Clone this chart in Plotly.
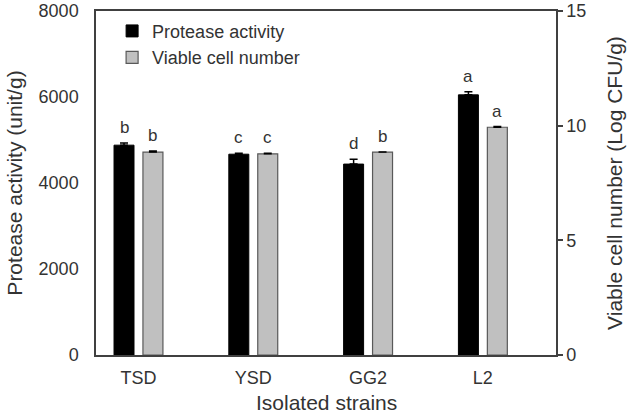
import plotly.graph_objects as go

strains = ["TSD", "YSD", "GG2", "L2"]
protease = [4880, 4670, 4440, 6050]
protease_err = [50, 20, 110, 70]
viable = [8.85, 8.77, 8.85, 9.93]
viable_err = [0.05, 0.03, 0.0, 0.03]
protease_letters = ["b", "c", "d", "a"]
viable_letters = ["b", "c", "b", "a"]

FONT = "Liberation Sans, Arial, sans-serif"
AXC = "#404040"
TXT = "#333333"
xpos = list(range(len(strains)))

fig = go.Figure()
fig.add_trace(go.Bar(
    x=xpos, y=protease, name="Protease activity",
    width=0.174, offset=-0.213,
    marker=dict(color="black", line=dict(color="black", width=1)),
    error_y=dict(type="data", array=protease_err, arrayminus=[0]*4, symmetric=False,
                 color="black", thickness=1.5, width=4),
    yaxis="y",
))
fig.add_trace(go.Bar(
    x=xpos, y=viable, name="Viable cell number",
    width=0.174, offset=0.039,
    marker=dict(color="#c0c0c0", line=dict(color="#595959", width=1.2)),
    error_y=dict(type="data", array=viable_err, arrayminus=[0]*4, symmetric=False,
                 color="black", thickness=1.5, width=4),
    yaxis="y2",
))

for i in range(len(strains)):
    fig.add_annotation(x=i - 0.126, y=protease[i] + protease_err[i], xref="x", yref="y",
                       text=protease_letters[i], showarrow=False, yanchor="bottom", yshift=4,
                       font=dict(family=FONT, size=17, color=TXT))
    fig.add_annotation(x=i + 0.126, y=viable[i] + viable_err[i], xref="x", yref="y2",
                       text=viable_letters[i], showarrow=False, yanchor="bottom", yshift=4,
                       font=dict(family=FONT, size=17, color=TXT))

# x-axis title
fig.add_annotation(x=0.5, y=-0.139, xref="paper", yref="paper", text="Isolated strains",
                   showarrow=False, xanchor="center", yanchor="middle",
                   font=dict(family=FONT, size=21, color=TXT))

fig.update_layout(
    width=630, height=414,
    margin=dict(l=96, r=74, t=11, b=59, autoexpand=False),
    paper_bgcolor="white", plot_bgcolor="white",
    barmode="overlay",
    font=dict(family=FONT, size=18, color=TXT),
    showlegend=True,
    legend=dict(x=0.035, y=0.995, xanchor="left", yanchor="top",
                bgcolor="rgba(0,0,0,0)", font=dict(family=FONT, size=18, color=TXT),
                traceorder="normal", itemwidth=30),
    xaxis=dict(
        range=[-0.370, 3.637], tickvals=xpos, ticktext=strains, automargin=False,
        showline=True, linecolor=AXC, linewidth=1.5, mirror=True,
        ticks="", showgrid=False, zeroline=False, ticklabelstandoff=6,
        tickfont=dict(family=FONT, size=18, color=TXT),
    ),
    yaxis=dict(
        range=[0, 8000], tickvals=[0, 2000, 4000, 6000, 8000], automargin=False,
        showline=True, linecolor=AXC, linewidth=1.5,
        ticks="", showgrid=False, zeroline=False, ticklabelstandoff=12,
        tickfont=dict(family=FONT, size=18, color=TXT),
        title=dict(text="Protease activity (unit/g)", font=dict(family=FONT, size=21, color=TXT), standoff=10),
    ),
    yaxis2=dict(
        range=[0, 15], tickvals=[0, 5, 10, 15], overlaying="y", side="right", automargin=False,
        showline=True, linecolor=AXC, linewidth=1.5,
        ticks="outside", ticklen=5, tickcolor=AXC, tickwidth=1.5,
        showgrid=False, zeroline=False,
        tickfont=dict(family=FONT, size=18, color=TXT),
        title=dict(text="Viable cell number (Log CFU/g)", font=dict(family=FONT, size=21, color=TXT), standoff=22),
    ),
)

fig.write_html("out.html")
